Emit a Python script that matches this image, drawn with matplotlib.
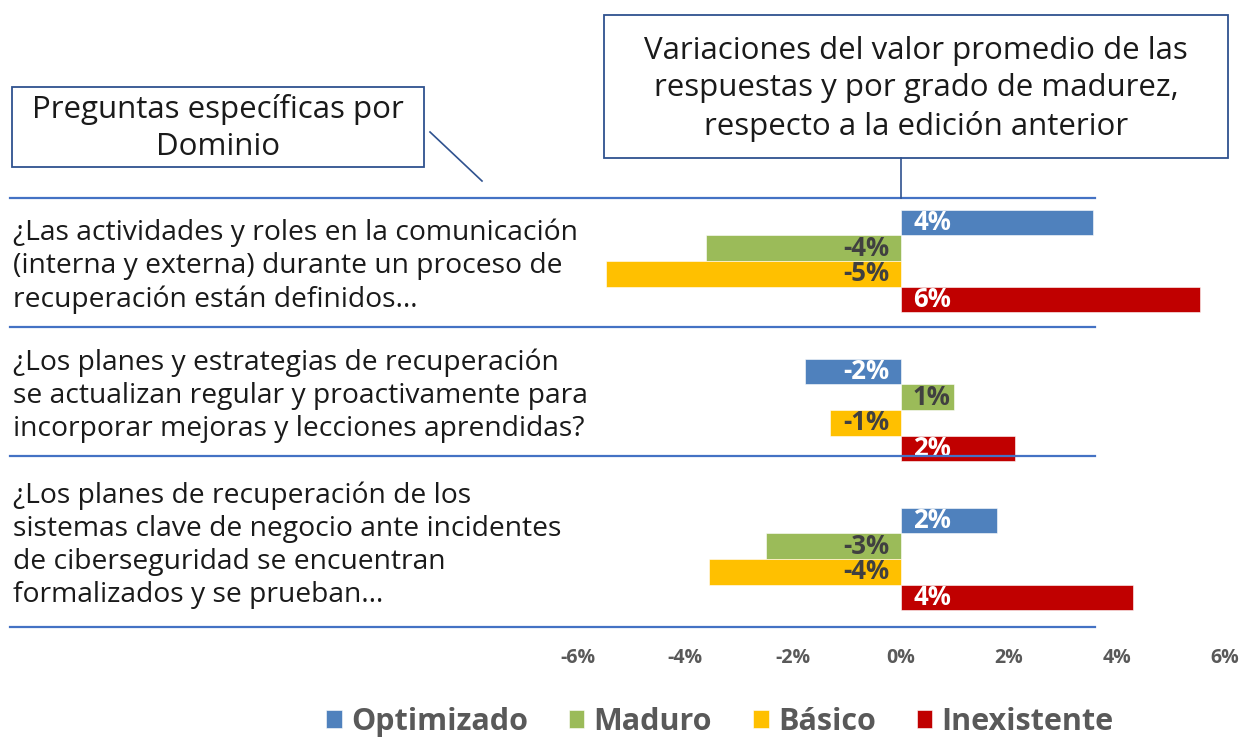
import matplotlib.pyplot as plt
from matplotlib.lines import Line2D
from matplotlib.patches import Rectangle
import numpy as np

# ── Data ─────────────────────────────────────────────────────────────────────
questions = [
    "¿Las actividades y roles en la comunicación\n(interna y externa) durante un proceso de\nrecuperación están definidos…",
    "¿Los planes y estrategias de recuperación\nse actualizan regular y proactivamente para\nincorporar mejoras y lecciones aprendidas?",
    "¿Los planes de recuperación de los\nsistemas clave de negocio ante incidentes\nde ciberseguridad se encuentran\nformalizados y se prueban…",
]
series = ["Optimizado", "Maduro", "Básico", "Inexistente"]
optimizado = [3.56, -1.78, 1.78]
maduro = [-3.62, 0.99, -2.50]
basico = [-5.47, -1.31, -3.56]
inexistente = [5.55, 2.11, 4.30]
lbl_optimizado = ["4%", "-2%", "2%"]
lbl_maduro = ["-4%", "1%", "-3%"]
lbl_basico = ["-5%", "-1%", "-4%"]
lbl_inexistente = ["6%", "2%", "4%"]
xticks = [-6, -4, -2, 0, 2, 4, 6]

colours = ["#4F81BD", "#9BBB59", "#FFC000", "#C00000"]
label_colours = ["white", "#404040", "#404040", "white"]
box_title_left = "Preguntas específicas por\nDominio"
box_title_right = "Variaciones del valor promedio de las\nrespuestas y por grado de madurez,\nrespecto a la edición anterior"

W, H = 1239, 740
FONT = "Open Sans"
GREY = "#595959"
LINE = "#4472C4"


def fx(x):
    return x / W


def fy(y):
    return 1 - y / H


fig = plt.figure(figsize=(W / 100, H / 100), dpi=100)

# ── Bar axes: 0% at x=901 px, 53.9 px per 1% ────────────────────────────────
px_per_pct = 53.9
ax_l, ax_r, ax_t, ax_b = 560, 1239, 198, 627
ax = fig.add_axes([fx(ax_l), fy(ax_b), fx(ax_r - ax_l), (ax_b - ax_t) / H])
ax.set_xlim((ax_l - 901) / px_per_pct, (ax_r - 901) / px_per_pct)
pitch = 149.0
ax.set_ylim((ax_b - 261) / pitch, (ax_t - 261) / pitch)
for s in ax.spines.values():
    s.set_visible(False)

bar_h = 25.7 / pitch
offsets = (np.arange(4) - 1.5) * bar_h
y0 = np.arange(len(questions))
values = [optimizado, maduro, basico, inexistente]
texts = [lbl_optimizado, lbl_maduro, lbl_basico, lbl_inexistente]
handles = []
for k in range(4):
    bars = ax.barh(y0 + offsets[k], values[k], height=bar_h, color=colours[k],
                   edgecolor="white", linewidth=0.4, label=series[k], clip_on=False)
    handles.append(bars)
    for yy, v, t in zip(y0 + offsets[k], values[k], texts[k]):
        pad = 12 / px_per_pct
        ax.text(pad if v >= 0 else -pad, yy, t, ha="left" if v >= 0 else "right",
                va="center", color=label_colours[k], fontsize=18.5, fontweight="bold",
                family=FONT)

ax.set_yticks([])
ax.set_xticks(xticks)
ax.set_xticklabels([f"{t}%" for t in xticks], family=FONT, fontweight="bold",
                   fontsize=14, color=GREY)
ax.tick_params(axis="x", length=0, pad=15)

# ── Separators and question labels ──────────────────────────────────────────
seps = [198, 327, 456, 627]
for s in seps:
    fig.add_artist(Line2D([fx(10), fx(1095)], [fy(s), fy(s)], color=LINE, lw=1.6))
for q, a, b in zip(questions, seps[:-1], seps[1:]):
    fig.text(fx(13), fy((a + b) / 2 + 4), q, ha="left", va="center", fontsize=20.3,
             family=FONT, color="#1a1a1a", linespacing=1.24)

# ── Callout boxes ────────────────────────────────────────────────────────────
BOX = "#2F528F"
fig.add_artist(Rectangle((fx(12), fy(167)), fx(412), (167 - 87) / H,
                         fill=False, edgecolor=BOX, lw=1.3))
fig.text(fx(218), fy(128), box_title_left, ha="center", va="center", fontsize=22.5,
         family=FONT, color="#1a1a1a", linespacing=1.33)
fig.add_artist(Line2D([fx(430), fx(482)], [fy(132), fy(181)], color=BOX, lw=1.2))

fig.add_artist(Rectangle((fx(604), fy(158)), fx(624), (158 - 15) / H,
                         fill=False, edgecolor=BOX, lw=1.3))
fig.text(fx(916), fy(89), box_title_right, ha="center", va="center", fontsize=22.5,
         family=FONT, color="#1a1a1a", linespacing=1.33)
fig.add_artist(Line2D([fx(901), fx(901)], [fy(158), fy(198)], color=BOX, lw=1.2))

# ── Legend ───────────────────────────────────────────────────────────────────
leg = fig.legend(handles=handles, labels=series, loc="center", ncol=4,
                 bbox_to_anchor=(fx(720), fy(722)), frameon=False,
                 prop={"family": FONT, "weight": "bold", "size": 22},
                 labelcolor=GREY, handlelength=0.5, handleheight=0.5,
                 handletextpad=0.3, columnspacing=1.35)

fig.savefig("out.png", dpi=100)
